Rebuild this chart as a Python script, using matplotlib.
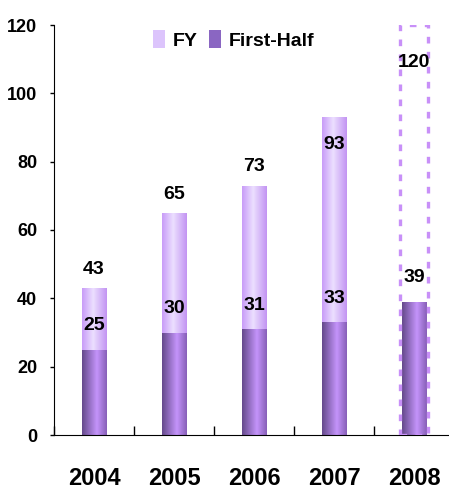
import matplotlib
matplotlib.use("Agg")
import matplotlib.pyplot as plt
import numpy as np
from matplotlib.colors import LinearSegmentedColormap
from matplotlib.patches import Patch

years = ["2004", "2005", "2006", "2007", "2008"]
fy = [43, 65, 73, 93, 120]
first_half = [25, 30, 31, 33, 39]

plt.rcParams['font.family'] = ['Liberation Sans', 'DejaVu Sans']
plt.rcParams['font.weight'] = 'bold'

fy_cmap = LinearSegmentedColormap.from_list(
    "fy", [(0, "#c89cf8"), (0.45, "#ecdfff"), (1, "#c294f2")])
half_cmap = LinearSegmentedColormap.from_list(
    "half", [(0, "#654a8c"), (0.6, "#c494fa"), (1, "#8860b8")])

fig = plt.figure(figsize=(4.49, 4.9), dpi=100)
ax = fig.add_axes([54 / 449, 55 / 490, 400 / 449, 410 / 490])

x = np.arange(len(years))
w = 0.31
grad = np.linspace(0, 1, 64).reshape(1, -1)


def shade(bars, cmap):
    for b in bars:
        im = ax.imshow(grad, cmap=cmap, aspect='auto', zorder=2,
                       extent=[b.get_x(), b.get_x() + b.get_width(), 0, b.get_height()])
        im.set_clip_path(b)


# FY (actual years), 2008 is forecast shown as dashed outline
fy_bars = ax.bar(x[:-1], fy[:-1], width=w, facecolor='none', edgecolor='none', zorder=2)
shade(fy_bars, fy_cmap)
ax.bar(x[-1], fy[-1], width=w + 0.03, facecolor='none', edgecolor='#c890f8',
       linewidth=2.4, linestyle=(0, (2, 2.5)), zorder=4)

half_bars = ax.bar(x, first_half, width=w, facecolor='none', edgecolor='none', zorder=3)
shade(half_bars, half_cmap)

# value labels
for i, v in enumerate(fy):
    if i < 3:
        y = v + 5.5
    elif i == 3:
        y = v - 8
    else:
        y = v - 11
    ax.text(x[i], y, str(v), ha='center', va='center', fontsize=14, fontweight='bold', zorder=5)
for i, v in enumerate(first_half):
    ax.text(x[i], v + 7, str(v), ha='center', va='center', fontsize=14, fontweight='bold', zorder=5)

ax.set_xlim(-0.5, 4.5)
ax.set_ylim(0, 120)
ax.set_yticks(np.arange(0, 121, 20))
ax.set_xticks(x)
ax.set_xticklabels(years)
ax.set_xticks(np.arange(-0.5, 4.6, 1), minor=True)

ax.spines['top'].set_visible(False)
ax.spines['right'].set_visible(False)
ax.tick_params(axis='y', direction='out', length=3, width=1, pad=9, labelsize=13)
ax.tick_params(axis='x', which='major', length=0, pad=23, labelsize=17)
ax.tick_params(axis='x', which='minor', direction='in', length=6.5, width=1)
for lab in ax.get_xticklabels() + ax.get_yticklabels():
    lab.set_fontweight('bold')

handles = [Patch(facecolor='#dcc4fc', edgecolor='none'),
           Patch(facecolor='#8a66c2', edgecolor='none')]
ax.legend(handles, ['FY', 'First-Half'], loc='upper center', bbox_to_anchor=(0.45, 1.03),
          ncol=2, frameon=False, handlelength=0.6, handleheight=1.0,
          columnspacing=0.6, handletextpad=0.4, prop={'size': 14, 'weight': 'bold'})

fig.savefig("out.png", dpi=100)
